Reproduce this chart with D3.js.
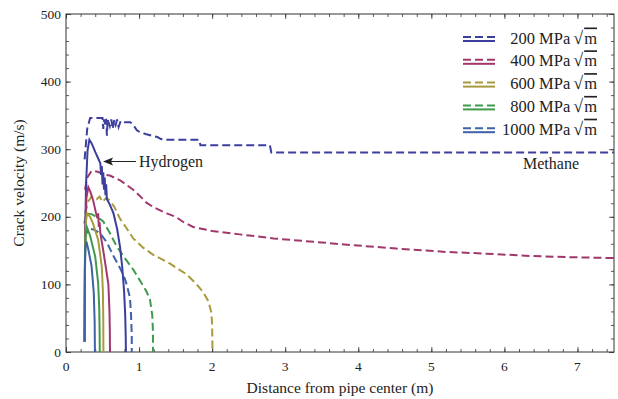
<!DOCTYPE html>
<html>
<head>
<meta charset="utf-8">
<script src="https://cdn.jsdelivr.net/npm/d3@7"></script>
<style>
  html, body { margin: 0; padding: 0; background: #fff; }
  svg { display: block; }
  text { font-family: "Liberation Serif", "DejaVu Serif", serif; fill: #222; }
</style>
</head>
<body>
<svg id="chart" width="618" height="399"></svg>
<script>
// Stress intensity levels (MPa·√m)
const toughness = [200, 400, 600, 800, 1000];
const colors = ["#3c3f9d", "#a2376e", "#a99a3d", "#3f9a4b", "#3d63a7"];

// Crack velocity (m/s) vs distance from pipe center (m) — methane (dashed)
const methane200 = [[0.255,285],[0.29,330],[0.33,346],[0.50,346],[0.51,330],[0.52,344],[0.54,336],[0.55,345],[0.56,320],[0.57,344],[0.60,334],[0.62,344],[0.64,330],[0.66,343],[0.68,336],[0.70,344],[0.72,333],[0.75,342],[0.80,340],[0.88,340],[0.92,336],[0.97,328],[1.0,326],[1.1,322],[1.25,318],[1.3,315],[1.35,314],[1.82,314],[1.84,306],[2.79,306],[2.81,295],[7.5,295]];
const methane400 = [[0.26,240],[0.29,258],[0.35,268],[0.42,267],[0.5,264],[0.55,262],[0.6,261],[0.68,257],[0.74,254],[0.83,247],[0.92,240],[1.0,232],[1.1,221],[1.2,214],[1.38,205],[1.5,200],[1.61,192],[1.74,185],[2.0,179],[2.38,174],[2.84,168],[3.39,163],[3.93,158],[4.52,153],[5.21,148],[5.85,145],[6.35,142],[7.0,140],[7.5,139]];
const methane600 = [[0.26,205],[0.3,222],[0.35,230],[0.42,226],[0.46,230],[0.5,222],[0.55,228],[0.6,224],[0.66,215],[0.74,197],[0.83,183],[0.92,168],[1.06,154],[1.19,144],[1.42,131],[1.56,121],[1.65,115],[1.79,100],[1.88,88],[1.95,75],[1.99,58],[2.0,40],[2.005,0]];
const methane800 = [[0.25,190],[0.28,205],[0.35,204],[0.45,198],[0.51,193],[0.60,176],[0.69,157],[0.79,141],[0.92,122],[1.01,106],[1.1,90],[1.15,77],[1.18,55],[1.19,30],[1.19,0]];
const methane1000 = [[0.26,170],[0.31,183],[0.38,181],[0.465,176],[0.56,162],[0.65,142],[0.74,124],[0.80,110],[0.83,100],[0.876,80],[0.89,55],[0.90,25],[0.90,0]];

// Hydrogen (solid)
const hydrogen200 = [[0.255,15],[0.26,160],[0.275,250],[0.295,298],[0.32,314],[0.35,309],[0.40,296],[0.45,284],[0.47,279],[0.48,262],[0.49,275],[0.50,248],[0.51,266],[0.52,240],[0.53,258],[0.54,232],[0.55,248],[0.56,226],[0.60,218],[0.65,205],[0.70,182],[0.74,155],[0.77,125],[0.795,90],[0.81,55],[0.818,20],[0.82,0]];
const hydrogen400 = [[0.255,15],[0.262,170],[0.28,228],[0.305,244],[0.33,238],[0.37,225],[0.41,206],[0.43,198],[0.44,205],[0.45,185],[0.46,192],[0.47,176],[0.51,150],[0.55,122],[0.58,100],[0.595,60],[0.60,30],[0.602,0]];
const hydrogen600 = [[0.255,15],[0.262,150],[0.275,195],[0.29,205],[0.33,200],[0.37,190],[0.44,166],[0.49,126],[0.505,90],[0.51,50],[0.512,0]];
const hydrogen800 = [[0.255,15],[0.26,140],[0.27,175],[0.285,185],[0.33,172],[0.40,141],[0.44,102],[0.455,65],[0.46,30],[0.462,0]];
const hydrogen1000 = [[0.255,15],[0.258,120],[0.265,155],[0.28,163],[0.305,152],[0.35,127],[0.38,88],[0.392,45],[0.396,0]];

const methaneSeries = [methane200, methane400, methane600, methane800, methane1000];
const hydrogenSeries = [hydrogen200, hydrogen400, hydrogen600, hydrogen800, hydrogen1000];

const xTicks = [0, 1, 2, 3, 4, 5, 6, 7];
const yTicks = [0, 100, 200, 300, 400, 500];

const margin = { left: 66, right: 4, top: 14, bottom: 47 };
const W = 618, H = 399;
const svg = d3.select("#chart");

const x = d3.scaleLinear().domain([0, 7.5]).range([margin.left, W - margin.right]);
const y = d3.scaleLinear().domain([0, 500]).range([H - margin.bottom, margin.top]);

const x0 = x.range()[0], x1 = x.range()[1], y0 = y.range()[0], y1 = y.range()[1];

// Inward ticks on all four sides
const xMinor = d3.range(0, 7.5001, 0.2).map(v => +v.toFixed(2));
const yMinor = d3.range(0, 500.001, 20);

function tickAxis(makeAxis, scale, transform, majorVals, minorVals) {
  const gMinor = svg.append("g").attr("transform", transform)
    .call(makeAxis(scale).tickValues(minorVals).tickSize(3).tickFormat(""));
  const gMajor = svg.append("g").attr("transform", transform)
    .call(makeAxis(scale).tickValues(majorVals).tickSize(5).tickFormat(""));
  [gMinor, gMajor].forEach(g => {
    g.select(".domain").remove();
    g.selectAll("text").remove();
    g.selectAll("line").attr("stroke", "#333").attr("stroke-width", 0.8);
  });
}

tickAxis(d3.axisTop, x, `translate(0,${y0})`, xTicks, xMinor);
tickAxis(d3.axisBottom, x, `translate(0,${y1})`, xTicks, xMinor);
tickAxis(d3.axisRight, y, `translate(${x0},0)`, yTicks, yMinor);
tickAxis(d3.axisLeft, y, `translate(${x1},0)`, yTicks, yMinor);

// Tick labels
svg.append("g").selectAll("text").data(xTicks).join("text")
  .attr("x", d => x(d)).attr("y", y0 + 19)
  .attr("text-anchor", "middle").attr("font-size", 13.5).text(d => d);
svg.append("g").selectAll("text").data(yTicks).join("text")
  .attr("x", x0 - 5).attr("y", d => y(d) + 4.5)
  .attr("text-anchor", "end").attr("font-size", 13.5).text(d => d);

// Frame
svg.append("rect").attr("x", x0).attr("y", y1).attr("width", x1 - x0).attr("height", y0 - y1)
  .attr("fill", "none").attr("stroke", "#333").attr("stroke-width", 1);

// Axis titles
svg.append("text").attr("x", 340).attr("y", 393)
  .attr("text-anchor", "middle").attr("font-size", 15.5).text("Distance from pipe center (m)");
svg.append("text").attr("transform", `translate(24,${(y0 + y1) / 2}) rotate(-90)`)
  .attr("text-anchor", "middle").attr("font-size", 15.5).text("Crack velocity (m/s)");

// Curves
const line = d3.line().x(d => x(d[0])).y(d => y(d[1]));
const gCurves = svg.append("g");
methaneSeries.forEach((s, i) => {
  gCurves.append("path").attr("d", line(s)).attr("fill", "none")
    .attr("stroke", colors[i]).attr("stroke-width", 2).attr("stroke-dasharray", "8,4");
});
hydrogenSeries.forEach((s, i) => {
  gCurves.append("path").attr("d", line(s)).attr("fill", "none")
    .attr("stroke", colors[i]).attr("stroke-width", 2);
});

// Annotations: arrow pointing at the hydrogen curves
svg.append("line").attr("x1", 136).attr("y1", 161.5).attr("x2", 110).attr("y2", 161.5)
  .attr("stroke", "#222").attr("stroke-width", 1);
svg.append("path").attr("d", "M103,161.5 L113,157.5 L111,161.5 L113,165.5 Z").attr("fill", "#222");
svg.append("text").attr("x", 139).attr("y", 167).attr("font-size", 16).text("Hydrogen");
svg.append("text").attr("x", 523).attr("y", 168.5).attr("font-size", 16).text("Methane");

// Legend
const legend = svg.append("g");
toughness.forEach((k, i) => {
  const cy = 37 + i * 22.8;
  legend.append("line").attr("x1", 463).attr("x2", 495).attr("y1", cy).attr("y2", cy)
    .attr("stroke", colors[i]).attr("stroke-width", 2).attr("stroke-dasharray", "8,4");
  legend.append("line").attr("x1", 463).attr("x2", 495).attr("y1", cy + 4).attr("y2", cy + 4)
    .attr("stroke", colors[i]).attr("stroke-width", 2);
  const t = legend.append("text").attr("x", 597).attr("y", cy + 6.5)
    .attr("text-anchor", "end").attr("font-size", 16.5);
  t.append("tspan").text(`${k} MPa`);
  t.append("tspan").attr("dx", 3).style("font-size", "18px").text("\u221A");
  t.append("tspan").attr("dx", 1).style("text-decoration", "overline").text("m");
});
</script>
</body>
</html>
